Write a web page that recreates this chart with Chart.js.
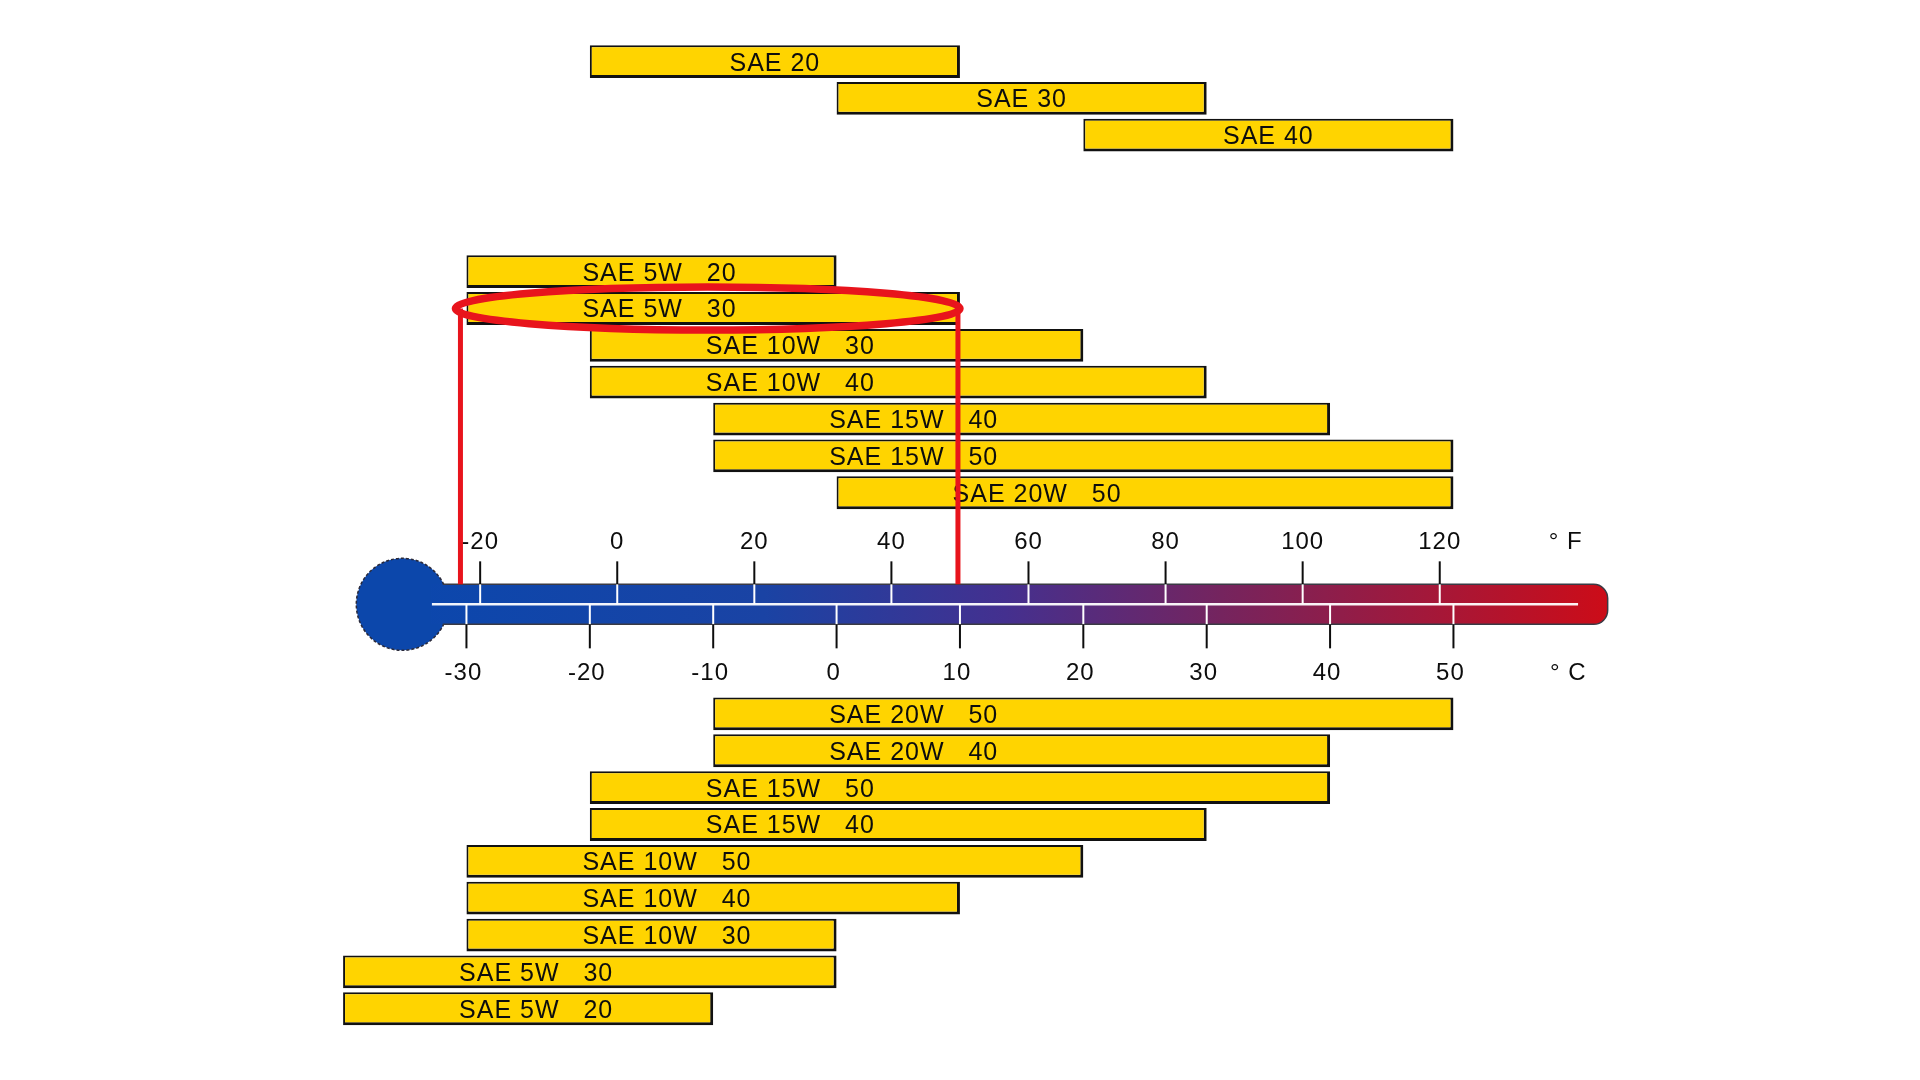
<!DOCTYPE html>
<html>
<head>
<meta charset="utf-8">
<title>SAE oil grades by temperature</title>
<script src="https://cdn.jsdelivr.net/npm/chart.js@4/dist/chart.umd.min.js"></script>
<style>
  html, body { margin: 0; padding: 0; background: #fff; }
  #wrap { position: relative; width: 1920px; height: 1080px; overflow: hidden; }
  #topChart { position: absolute; left: 0; top: 0; }
  #mainChart { position: absolute; left: 0; top: 170px; }
</style>
</head>
<body>
<div id="wrap">
  <canvas id="topChart" width="1920" height="170"></canvas>
  <canvas id="mainChart" width="1920" height="910"></canvas>
</div>
<script>
// single grades (top)
const topGrades = ["SAE 20", "SAE 30", "SAE 40"];
const topFrom = [-20, 0, 20];
const topTo = [10, 30, 50];

// multigrades above the thermometer
const midGrades = ["SAE 5W   20", "SAE 5W   30", "SAE 10W   30", "SAE 10W   40", "SAE 15W   40", "SAE 15W   50", "SAE 20W   50"];
const midFrom = [-30, -30, -20, -20, -10, -10, 0];
const midTo = [0, 10, 20, 30, 40, 50, 50];

// multigrades below the thermometer
const lowGrades = ["SAE 20W   50", "SAE 20W   40", "SAE 15W   50", "SAE 15W   40", "SAE 10W   50", "SAE 10W   40", "SAE 10W   30", "SAE 5W   30", "SAE 5W   20"];
const lowFrom = [-10, -10, -20, -20, -30, -30, -30, -40, -40];
const lowTo = [50, 40, 40, 30, 20, 10, 0, 0, -10];

// thermometer scales
const celsiusTicks = [-30, -20, -10, 0, 10, 20, 30, 40, 50];
const fahrenheitTicks = [-20, 0, 20, 40, 60, 80, 100, 120];

const highlightRow = 1; // SAE 5W 30 in the middle block
const gapRows = 5;

const YELLOW = "#FFD400";
const INK = "#0d0d0d";
const FONT = '25px "Liberation Sans", Arial, sans-serif';

// draws text with its cap height centred on y
function label(ctx, text, x, y, align) {
  ctx.save();
  ctx.letterSpacing = "1px";
  ctx.textAlign = align;
  ctx.textBaseline = "alphabetic";
  ctx.fillText(text, x, y + 9);
  ctx.restore();
}

const barText = {
  id: "barText",
  afterDatasetsDraw(chart, args, opts) {
    const ctx = chart.ctx;
    const xs = chart.scales.x;
    const ds = chart.data.datasets[0];
    const meta = chart.getDatasetMeta(0);
    ctx.save();
    ctx.fillStyle = INK;
    ctx.font = FONT;
    meta.data.forEach((bar, i) => {
      const r = ds.data[i];
      if (!r) return;
      const name = chart.data.labels[i];
      const a = xs.getPixelForValue(r[0]);
      const b = xs.getPixelForValue(r[1]);
      if (opts.align === "center") label(ctx, name, (a + b) / 2, bar.y, "center");
      else label(ctx, name, a + 116, bar.y, "left");
    });
    ctx.restore();
  }
};

const thermometer = {
  id: "thermometer",
  afterDatasetsDraw(chart) {
    const ctx = chart.ctx;
    const xs = chart.scales.x;
    const ys = chart.scales.y;
    const cy = (ys.getPixelForValue(midGrades.length - 1) + ys.getPixelForValue(midGrades.length + gapRows)) / 2 + 1;
    const bulbX = xs.getPixelForValue(-35.2);
    const bulbR = 46;
    const half = 20;
    const tubeEnd = xs.getPixelForValue(62.5);

    ctx.save();
    // bulb
    ctx.beginPath();
    ctx.arc(bulbX, cy, bulbR, 0, Math.PI * 2);
    ctx.fillStyle = "#0c47ab";
    ctx.fill();
    ctx.setLineDash([3, 2]);
    ctx.lineWidth = 1.5;
    ctx.strokeStyle = "#2a2a3a";
    ctx.stroke();
    ctx.setLineDash([]);

    // tube
    const x0 = bulbX + Math.sqrt(bulbR * bulbR - half * half) - 1;
    const grad = ctx.createLinearGradient(bulbX, 0, tubeEnd, 0);
    grad.addColorStop(0, "#0b47ad");
    grad.addColorStop(0.3, "#1a43a4");
    grad.addColorStop(0.5, "#44308f");
    grad.addColorStop(0.68, "#75245e");
    grad.addColorStop(0.85, "#a3183a");
    grad.addColorStop(1, "#cc0c18");
    const rr = 14;
    ctx.beginPath();
    ctx.moveTo(x0, cy - half);
    ctx.lineTo(tubeEnd - rr, cy - half);
    ctx.arcTo(tubeEnd, cy - half, tubeEnd, cy - half + rr, rr);
    ctx.lineTo(tubeEnd, cy + half - rr);
    ctx.arcTo(tubeEnd, cy + half, tubeEnd - rr, cy + half, rr);
    ctx.lineTo(x0, cy + half);
    ctx.lineTo(x0 - 12, cy + half);
    ctx.lineTo(x0 - 12, cy - half);
    ctx.closePath();
    ctx.fillStyle = grad;
    ctx.fill();
    ctx.beginPath();
    ctx.moveTo(x0, cy - half);
    ctx.lineTo(tubeEnd - rr, cy - half);
    ctx.arcTo(tubeEnd, cy - half, tubeEnd, cy - half + rr, rr);
    ctx.lineTo(tubeEnd, cy + half - rr);
    ctx.arcTo(tubeEnd, cy + half, tubeEnd - rr, cy + half, rr);
    ctx.lineTo(x0, cy + half);
    ctx.lineWidth = 1.5;
    ctx.strokeStyle = "#3a3a44";
    ctx.stroke();

    // centre line
    ctx.beginPath();
    ctx.moveTo(xs.getPixelForValue(-32.8), cy);
    ctx.lineTo(xs.getPixelForValue(60.1), cy);
    ctx.lineWidth = 2.5;
    ctx.strokeStyle = "rgba(255,255,255,0.95)";
    ctx.stroke();

    ctx.lineWidth = 2;
    ctx.fillStyle = INK;
    ctx.font = '24px "Liberation Sans", Arial, sans-serif';
    // fahrenheit ticks (above)
    fahrenheitTicks.forEach(f => {
      const x = xs.getPixelForValue((f - 32) * 5 / 9);
      ctx.strokeStyle = INK;
      ctx.beginPath(); ctx.moveTo(x, cy - 43); ctx.lineTo(x, cy - half); ctx.stroke();
      ctx.strokeStyle = "#fff";
      ctx.beginPath(); ctx.moveTo(x, cy - half); ctx.lineTo(x, cy); ctx.stroke();
      label(ctx, String(f), x, cy - 64, "center");
    });
    // celsius ticks (below)
    celsiusTicks.forEach(c => {
      const x = xs.getPixelForValue(c);
      ctx.strokeStyle = "#fff";
      ctx.beginPath(); ctx.moveTo(x, cy); ctx.lineTo(x, cy + half); ctx.stroke();
      ctx.strokeStyle = INK;
      ctx.beginPath(); ctx.moveTo(x, cy + half); ctx.lineTo(x, cy + 44); ctx.stroke();
      label(ctx, String(c), x - 3, cy + 67, "center");
    });
    label(ctx, "° F", xs.getPixelForValue(59.1), cy - 64, "center");
    label(ctx, "° C", xs.getPixelForValue(59.3), cy + 67, "center");

    // red highlight of the chosen grade
    const r = chart.data.datasets[0].data[highlightRow];
    const rowY = ys.getPixelForValue(highlightRow);
    const a = xs.getPixelForValue(r[0]);
    const b = xs.getPixelForValue(r[1]);
    ctx.strokeStyle = "#e8141c";
    ctx.lineWidth = 5;
    ctx.beginPath();
    ctx.moveTo(a - 6, rowY); ctx.lineTo(a - 6, cy - half);
    ctx.moveTo(b - 2, rowY); ctx.lineTo(b - 2, cy - half);
    ctx.stroke();
    ctx.lineWidth = 7.5;
    ctx.beginPath();
    ctx.ellipse((a - 11 + b) / 2, rowY, (b - a + 11) / 2, 21.5, 0, 0, Math.PI * 2);
    ctx.stroke();
    ctx.restore();
  }
};

function ranges(from, to) {
  return from.map((v, i) => [v, to[i]]);
}

function barChart(id, labels, data, padding, align, extra) {
  return new Chart(document.getElementById(id), {
    type: "bar",
    data: {
      labels: labels,
      datasets: [{
        data: data,
        backgroundColor: YELLOW,
        borderColor: "#111",
        borderWidth: { top: 2, left: 2, right: 3, bottom: 3 },
        borderSkipped: false,
        categoryPercentage: 1,
        barPercentage: 0.89
      }]
    },
    options: {
      indexAxis: "y",
      responsive: false,
      animation: false,
      devicePixelRatio: 1,
      layout: { padding: padding },
      scales: {
        x: { type: "linear", min: -50, max: 70, display: false },
        y: { display: false }
      },
      plugins: {
        legend: { display: false },
        tooltip: { enabled: false },
        barText: { align: align }
      }
    },
    plugins: [barText].concat(extra)
  });
}

barChart("topChart", topGrades, ranges(topFrom, topTo),
  { left: 219.7, right: 219.8, top: 43.3, bottom: 16.4 }, "center", []);

const gap = new Array(gapRows).fill("");
const mainLabels = midGrades.concat(gap, lowGrades);
const mainData = ranges(midFrom, midTo).concat(gap.map(() => null), ranges(lowFrom, lowTo));
barChart("mainChart", mainLabels, mainData,
  { left: 219.7, right: 219.8, top: 83.2, bottom: 52.8 }, "left", [thermometer]);
</script>
</body>
</html>
